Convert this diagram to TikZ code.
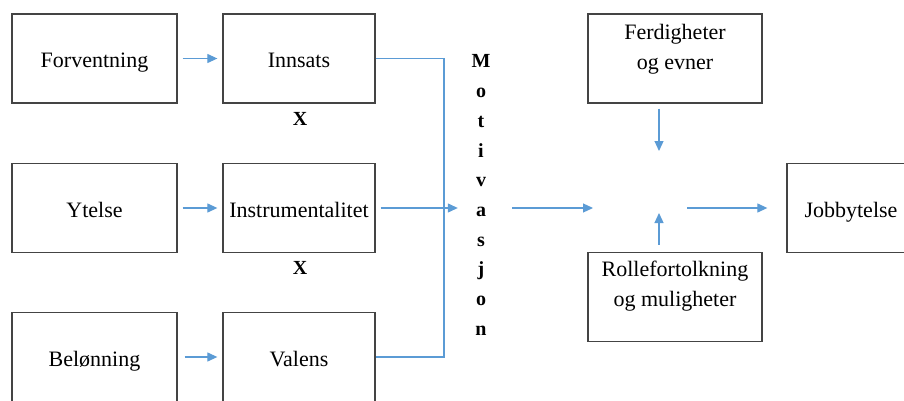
\documentclass[tikz,border=0pt]{standalone}
\usepackage{fontspec}
\setmainfont{Liberation Serif}
\usetikzlibrary{arrows.meta}

\definecolor{linkblue}{RGB}{91,155,213}
\definecolor{boxgray}{RGB}{68,68,68}

\tikzset{
    box/.style={draw=boxgray, line width=1.3pt, minimum height=89pt, inner sep=0pt,
        align=center, font=\fontsize{22}{30}\selectfont},
    single/.style={box, text height=19pt, text depth=1pt},
    arr/.style={draw=linkblue, line width=1.2pt, -{Triangle[length=10pt,width=9pt]}},
    link/.style={draw=linkblue, line width=1.2pt},
    letter/.style={anchor=base, inner sep=0pt, font=\bfseries\fontsize{20}{24}\selectfont},
    times/.style={inner sep=0pt, font=\bfseries\fontsize{20}{24}\selectfont}
}

\begin{document}
\begin{tikzpicture}[x=1pt, y=-1pt]
    \clip (0,0) rectangle (904,401);

    % left column
    \node[single, minimum width=165pt] (forv) at (94.5,58.5) {Forventning};
    \node[single, minimum width=165pt] (ytel) at (94.5,208) {Ytelse};
    \node[single, minimum width=165pt] (belo) at (94.5,357) {Belønning};

    % middle column
    \node[single, minimum width=152pt] (inns) at (299,58.5) {Innsats};
    \node[single, minimum width=152pt] (instr) at (299,208) {Instrumentalitet};
    \node[single, minimum width=152pt] (val) at (299,357) {Valens};
    \node[times] (x1) at (300,119) {X};
    \node[times] (x2) at (300,268) {X};

    % motivasjon
    \foreach \ch [count=\i] in {M,o,t,i,v,a,s,j,o,n}
        \node[letter] (m\i) at (481,{68+29.7*(\i-1)}) {\ch};

    % right part
    \node[box, minimum width=174pt] (ferd) at (675,58.5) {Ferdigheter\\og evner\\[-6pt]\mbox{}};
    \node[box, minimum width=174pt] (roll) at (675,297) {Rollefortolkning\\og muligheter\\[-4pt]\mbox{}};
    \node[single, minimum width=128pt] (jobb) at (851,208) {Jobbytelse};
    \coordinate (bus) at (444,208);
    \coordinate (hub) at (659,208);

    % arrows
    \draw[arr, shorten <=5pt, shorten >=5pt] (forv) -- (inns);
    \draw[arr, shorten <=5pt, shorten >=5pt] (ytel) -- (instr);
    \draw[arr, shorten <=7pt, shorten >=5pt] (belo) -- (val);
    \draw[link] (inns.east) -| (bus) |- (val.east);
    \draw[arr, shorten <=5pt, shorten >=18pt] (instr.east) -- (instr.east -| m6.west);
    \draw[arr, shorten <=26pt, shorten >=66pt] (m6.east |- hub) -- (hub);
    \draw[arr, shorten <=5pt, shorten >=57pt] (ferd.south -| hub) -- (hub);
    \draw[arr, shorten <=7pt, shorten >=5pt] (roll.north -| hub) -- (hub);
    \draw[arr, shorten <=28pt, shorten >=19pt] (hub) -- (hub -| jobb.west);
\end{tikzpicture}
\end{document}
